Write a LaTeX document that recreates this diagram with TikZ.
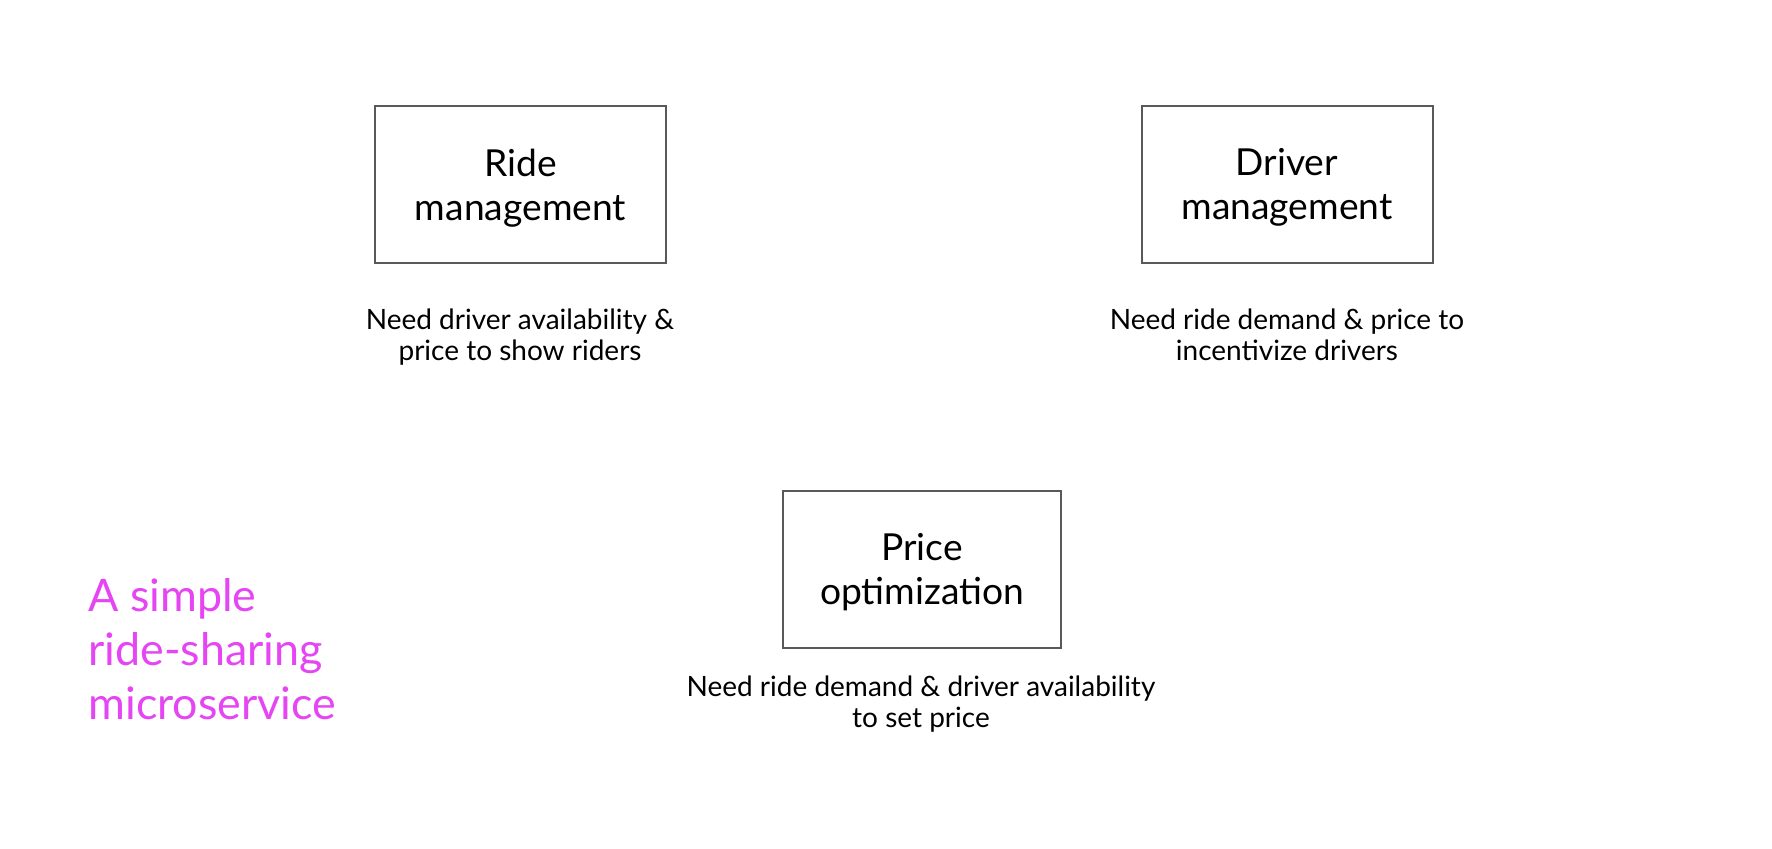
\documentclass[tikz,border=0pt]{standalone}
\usepackage{fontspec}
\setmainfont{Lato}
\definecolor{pinktxt}{HTML}{E545F2}
\definecolor{boxline}{HTML}{595959}
\begin{document}
\begin{tikzpicture}[x=0.5pt,y=-0.5pt,
  svcbox/.style={draw=boxline,line width=1pt,minimum width=145.5pt,minimum height=78.5pt,inner sep=0pt,text depth=0pt,align=center,font=\fontsize{18.6}{22}\selectfont},
  caption/.style={anchor=north,inner sep=0pt,align=center,font=\fontsize{14}{15.5}\selectfont},
  title/.style={anchor=north west,inner sep=0pt,align=left,text=pinktxt,font=\fontsize{22.4}{27}\selectfont}]
\useasboundingbox (0,0) rectangle (1772,848);
\node[svcbox] (ride) at (520.5,184.5) {Ride\\management};
\node[svcbox] (driver) at (1287,184) {Driver\\management};
\node[svcbox,minimum width=139pt] (price) at (922,569) {Price\\optimization};
\node[caption] (ridecap) at (520,308) {Need driver availability \&\\price to show riders};
\node[caption] (drivercap) at (1287,308) {Need ride demand \& price to\\incentivize drivers};
\node[caption] (pricecap) at (921,675) {Need ride demand \& driver availability\\to set price};
\node[title] (title) at (88,578) {A simple\\ride-sharing\\microservice};
\end{tikzpicture}
\end{document}
